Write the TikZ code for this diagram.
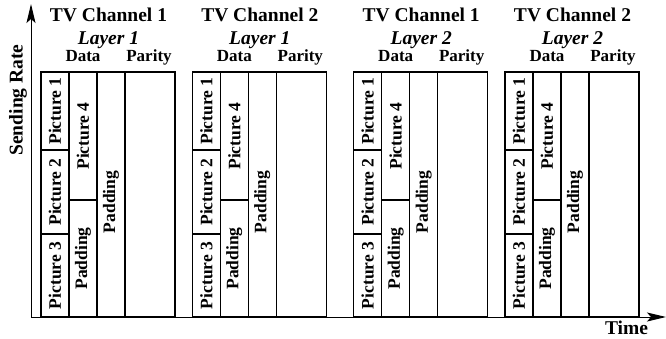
\documentclass[tikz,border=0pt]{standalone}
\usepackage{fontspec}
\setmainfont{Liberation Serif}
\usepackage{graphicx}
\usetikzlibrary{arrows.meta}
\begin{document}
\begin{tikzpicture}[x=1pt,y=-1pt,
  cell/.style={draw, line width=1.1pt, inner sep=0pt, outer sep=0pt, anchor=north west,
    font=\fontsize{17.5}{17.5}\selectfont\bfseries},
  inner/.style={inner sep=0pt, font=\fontsize{17.5}{17.5}\selectfont\bfseries},
  title/.style={inner sep=0pt, anchor=base, font=\fontsize{19.5}{20}\selectfont\bfseries},
  layer/.style={inner sep=0pt, anchor=base, font=\fontsize{19.5}{20}\selectfont\bfseries\itshape},
  sub/.style={inner sep=0pt, anchor=base, font=\fontsize{17}{17}\selectfont\bfseries},
  axis/.style={line width=1pt, -{Stealth[length=19pt,width=9pt,inset=4pt]}}]
\useasboundingbox (0,0) rectangle (666,338);
\foreach \g/\x/\ch/\ly in {1/41/1/1, 2/192.3/2/1, 3/353.7/1/2, 4/505/2/2}{
  \node[cell, minimum width=28pt, minimum height=78pt] (p1-\g) at (\x,72) {\rotatebox{90}{Picture 1}};
  \node[cell, minimum width=28pt, minimum height=84pt] (p2-\g) at (\x,150) {\rotatebox{90}{Picture 2}};
  \node[cell, minimum width=28pt, minimum height=83pt] (p3-\g) at (\x,234) {\rotatebox{90}{Picture 3}};
  \node[cell, minimum width=28pt, minimum height=128pt] (p4-\g) at (\x+28,72) {\rotatebox{90}{Picture 4}};
  \node[cell, minimum width=28pt, minimum height=117pt] (pa-\g) at (\x+28,200) {\rotatebox{90}{Padding}};
  \node[cell, minimum width=28pt, minimum height=245pt] (pb-\g) at (\x+56,72) {};
  \node[inner] (pbt-\g) at ([yshift=-7.5pt]pb-\g.center) {\rotatebox{90}{Padding}};
  \node[cell, minimum width=50pt, minimum height=245pt] (par-\g) at (\x+84,72) {};
  \node[title] (t-\g) at (\x+67.5,21.5) {TV Channel \ch};
  \node[layer] (l-\g) at (\x+67.5,44) {Layer \ly};
  \node[sub] (d-\g) at (\x+42,61.5) {Data};
  \node[sub] (pr-\g) at (\x+108,61.5) {Parity};
}
\coordinate (o) at (31,317);
\coordinate (ytip) at (31,4);
\coordinate (xtip) at (666,317);
\draw[axis] (o) -- (ytip);
\draw[axis] (o) -- (xtip);
\node[title, anchor=center, rotate=90] (yl) at (18,100) {Sending Rate};
\node[title] (tl) at (626.5,334) {Time};
\end{tikzpicture}
\end{document}
